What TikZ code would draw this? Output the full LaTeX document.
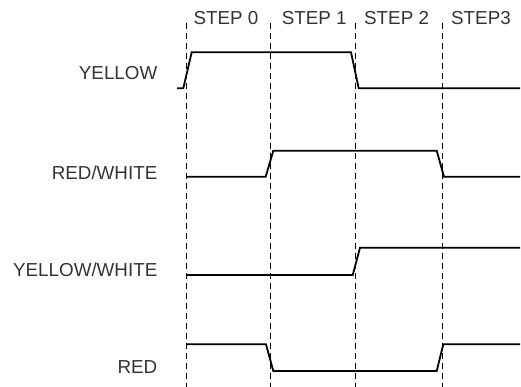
\documentclass[tikz,border=0pt]{standalone}
\usepackage{fontspec}
\setmainfont{Liberation Sans}
\begin{document}
\begin{tikzpicture}[x=1pt,y=-1pt,
  lbl/.style={inner sep=0pt,font=\fontsize{18.8}{20}\selectfont,text=black!80},
  sig/.style={line width=1.8pt,line join=miter},
  grid/.style={line width=0.8pt,dash pattern=on 6pt off 4pt}]
\useasboundingbox (0,0) rectangle (521,387);
% dashed step separators
\foreach \x in {186,270.5,355.5,442}
  \draw[grid] (\x,22.7) -- (\x,387);
% step labels
\node[lbl,anchor=base west] (s0) at (193.3,25) {STEP 0};
\node[lbl,anchor=base west] (s1) at (281.7,25) {STEP 1};
\node[lbl,anchor=base west] (s2) at (364,25) {STEP 2};
\node[lbl,anchor=base west] (s3) at (451,25) {STEP3};
% signal labels
\node[lbl,anchor=base east] (ly) at (157.5,79.3) {YELLOW};
\node[lbl,anchor=base east] (lrw) at (157.5,180) {RED/WHITE};
\node[lbl,anchor=base east] (lyw) at (157.5,276) {YELLOW/WHITE};
\node[lbl,anchor=base east] (lr) at (157.5,373.3) {RED};
% waveforms
\draw[sig] (177,88.3) -- (183.3,88.3) -- (191.7,52.3) -- (351,52.3) -- (358.7,88.3) -- (520,88.3);
\draw[sig] (186.7,176.7) -- (265.7,176.7) -- (273.3,150.7) -- (436.7,150.7) -- (444,176.7) -- (520,176.7);
\draw[sig] (186.7,275) -- (352.7,275) -- (360,247.7) -- (520,247.7);
\draw[sig] (186.7,344.3) -- (266,344.3) -- (273.3,371) -- (436.7,371) -- (443.3,344.3) -- (520,344.3);
\end{tikzpicture}
\end{document}
